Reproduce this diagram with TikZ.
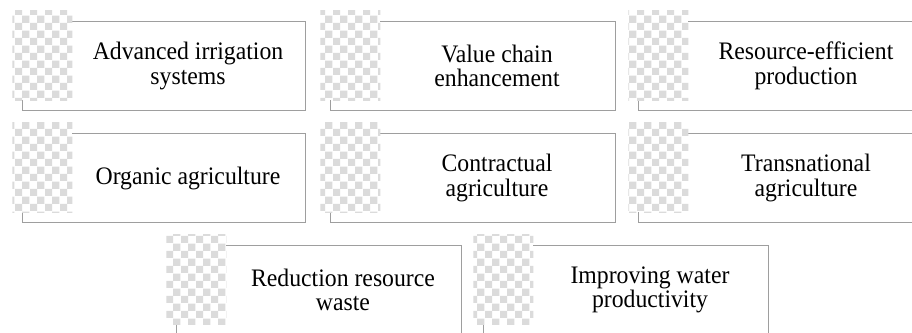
\documentclass[tikz,border=0pt]{standalone}
\usepackage{fontspec}
\setmainfont{Liberation Serif}
\usetikzlibrary{patterns}
\begin{document}
\begin{tikzpicture}[x=0.75pt,y=0.75pt,
    frame/.style={draw=black!38,line width=0.6pt},
    thumb/.style={anchor=north west,inner sep=0pt,minimum width=45pt,minimum height=67.5pt,
      preaction={fill=white},pattern=checkerboard,pattern color=black!14},
    caption/.style={align=center,inner sep=0pt,yscale=1.06,transform shape,
      font=\fontsize{17.8}{17.4}\selectfont}]
          \useasboundingbox (0,-332) rectangle (912,0);
          \clip (0,-332) rectangle (912,0);

          % left/right/top of each frame, in pixels from the top left
          \foreach \l/\r/\t/\n/\txt in {
              22/305/21/irr/{Advanced irrigation\\systems},
              330/615/21/val/{Value chain\\enhancement},
              638/925/21/res/{Resource-efficient\\production},
              22/305/133/org/{Organic agriculture},
              330/615/133/con/{Contractual\\agriculture},
              638/925/133/tra/{Transnational\\agriculture},
              176/461/245/red/{Reduction resource\\waste},
              483/768/245/wat/{Improving water\\productivity}}{
            \coordinate (\n-nw) at (\l,-\t);
            \coordinate (\n-se) at (\r,-\t-89);
            \draw[frame] (\n-nw) rectangle (\n-se);
            \node[thumb](\n-img) at (\l-10,-\t+11) {};
            \node[caption](\n-txt) at ({(\l+49+\r)/2},{-\t-45}) {\txt};
          }
      \end{tikzpicture}
\end{document}
